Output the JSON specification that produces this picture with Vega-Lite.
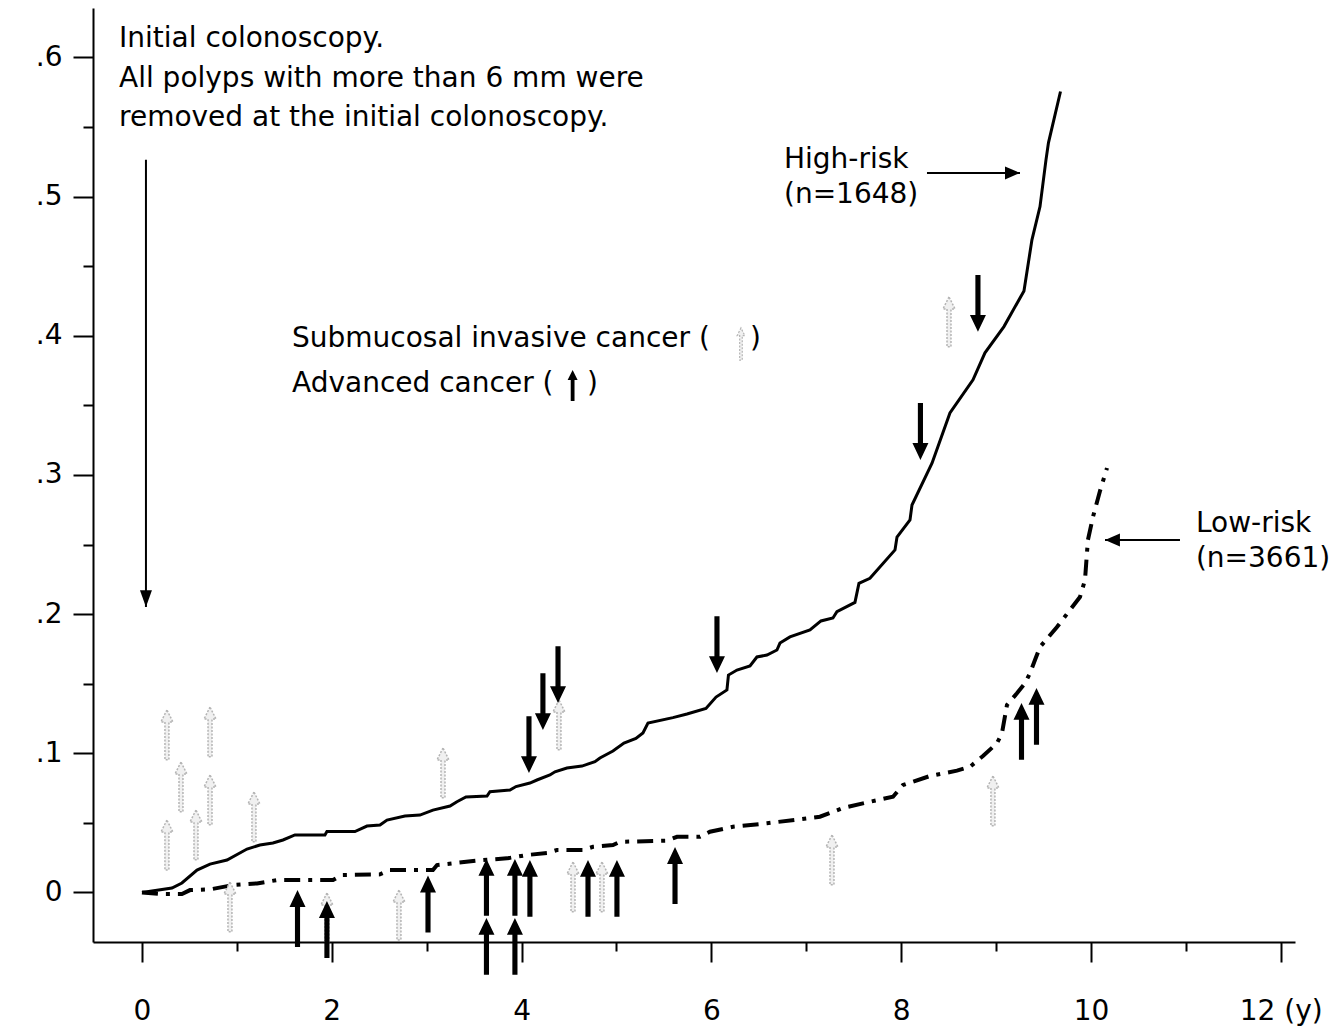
{
  "$schema": "https://vega.github.io/schema/vega-lite/v6.json",
  "width": 1202,
  "height": 934,
  "autosize": {"type": "none"},
  "padding": {"left": 93, "top": 8, "right": 44, "bottom": 86},
  "background": "white",
  "config": {"view": {"stroke": null}},
  "datasets": {
    "curves": [
      {"group": "High-risk", "t": 0, "risk": 0},
      {"group": "High-risk", "t": 0.316, "risk": 0.0032},
      {"group": "High-risk", "t": 0.421, "risk": 0.0068},
      {"group": "High-risk", "t": 0.58, "risk": 0.0161},
      {"group": "High-risk", "t": 0.717, "risk": 0.0204},
      {"group": "High-risk", "t": 0.896, "risk": 0.0233},
      {"group": "High-risk", "t": 1.107, "risk": 0.0312},
      {"group": "High-risk", "t": 1.243, "risk": 0.0341},
      {"group": "High-risk", "t": 1.38, "risk": 0.0355},
      {"group": "High-risk", "t": 1.486, "risk": 0.0377},
      {"group": "High-risk", "t": 1.612, "risk": 0.0413},
      {"group": "High-risk", "t": 1.928, "risk": 0.0413},
      {"group": "High-risk", "t": 1.949, "risk": 0.0438},
      {"group": "High-risk", "t": 2.244, "risk": 0.0438},
      {"group": "High-risk", "t": 2.371, "risk": 0.0477},
      {"group": "High-risk", "t": 2.508, "risk": 0.0484},
      {"group": "High-risk", "t": 2.582, "risk": 0.052},
      {"group": "High-risk", "t": 2.771, "risk": 0.0549},
      {"group": "High-risk", "t": 2.929, "risk": 0.0556},
      {"group": "High-risk", "t": 3.066, "risk": 0.0592},
      {"group": "High-risk", "t": 3.246, "risk": 0.0621},
      {"group": "High-risk", "t": 3.319, "risk": 0.0652},
      {"group": "High-risk", "t": 3.414, "risk": 0.0686},
      {"group": "High-risk", "t": 3.636, "risk": 0.0693},
      {"group": "High-risk", "t": 3.667, "risk": 0.0724},
      {"group": "High-risk", "t": 3.878, "risk": 0.0736},
      {"group": "High-risk", "t": 3.941, "risk": 0.0761},
      {"group": "High-risk", "t": 4.088, "risk": 0.0786},
      {"group": "High-risk", "t": 4.162, "risk": 0.0808},
      {"group": "High-risk", "t": 4.299, "risk": 0.0844},
      {"group": "High-risk", "t": 4.352, "risk": 0.0867},
      {"group": "High-risk", "t": 4.478, "risk": 0.0894},
      {"group": "High-risk", "t": 4.636, "risk": 0.0908},
      {"group": "High-risk", "t": 4.773, "risk": 0.0939},
      {"group": "High-risk", "t": 4.826, "risk": 0.0966},
      {"group": "High-risk", "t": 4.963, "risk": 0.1016},
      {"group": "High-risk", "t": 5.079, "risk": 0.1074},
      {"group": "High-risk", "t": 5.205, "risk": 0.1106},
      {"group": "High-risk", "t": 5.279, "risk": 0.1146},
      {"group": "High-risk", "t": 5.332, "risk": 0.1217},
      {"group": "High-risk", "t": 5.595, "risk": 0.1256},
      {"group": "High-risk", "t": 5.743, "risk": 0.1282},
      {"group": "High-risk", "t": 5.943, "risk": 0.1322},
      {"group": "High-risk", "t": 6.049, "risk": 0.1404},
      {"group": "High-risk", "t": 6.164, "risk": 0.1455},
      {"group": "High-risk", "t": 6.18, "risk": 0.1562},
      {"group": "High-risk", "t": 6.27, "risk": 0.1598},
      {"group": "High-risk", "t": 6.407, "risk": 0.1627},
      {"group": "High-risk", "t": 6.48, "risk": 0.1692},
      {"group": "High-risk", "t": 6.586, "risk": 0.1706},
      {"group": "High-risk", "t": 6.691, "risk": 0.1742},
      {"group": "High-risk", "t": 6.723, "risk": 0.1792},
      {"group": "High-risk", "t": 6.828, "risk": 0.1836},
      {"group": "High-risk", "t": 7.039, "risk": 0.1886},
      {"group": "High-risk", "t": 7.155, "risk": 0.1951},
      {"group": "High-risk", "t": 7.281, "risk": 0.1972},
      {"group": "High-risk", "t": 7.323, "risk": 0.2017},
      {"group": "High-risk", "t": 7.513, "risk": 0.2084},
      {"group": "High-risk", "t": 7.555, "risk": 0.2221},
      {"group": "High-risk", "t": 7.671, "risk": 0.2257},
      {"group": "High-risk", "t": 7.935, "risk": 0.2461},
      {"group": "High-risk", "t": 7.956, "risk": 0.2554},
      {"group": "High-risk", "t": 8.093, "risk": 0.2676},
      {"group": "High-risk", "t": 8.114, "risk": 0.2784},
      {"group": "High-risk", "t": 8.325, "risk": 0.3084},
      {"group": "High-risk", "t": 8.514, "risk": 0.3445},
      {"group": "High-risk", "t": 8.757, "risk": 0.3683},
      {"group": "High-risk", "t": 8.883, "risk": 0.3877},
      {"group": "High-risk", "t": 9.083, "risk": 0.4066},
      {"group": "High-risk", "t": 9.294, "risk": 0.4322},
      {"group": "High-risk", "t": 9.378, "risk": 0.4689},
      {"group": "High-risk", "t": 9.463, "risk": 0.4928},
      {"group": "High-risk", "t": 9.526, "risk": 0.5264},
      {"group": "High-risk", "t": 9.552, "risk": 0.5386},
      {"group": "High-risk", "t": 9.679, "risk": 0.5755},
      {"group": "Low-risk", "t": 0, "risk": 0},
      {"group": "Low-risk", "t": 0.211, "risk": -0.0012},
      {"group": "Low-risk", "t": 0.421, "risk": -0.0012},
      {"group": "Low-risk", "t": 0.506, "risk": 0.0017},
      {"group": "Low-risk", "t": 0.717, "risk": 0.0022},
      {"group": "Low-risk", "t": 0.959, "risk": 0.0053},
      {"group": "Low-risk", "t": 1.212, "risk": 0.0065},
      {"group": "Low-risk", "t": 1.423, "risk": 0.0089},
      {"group": "Low-risk", "t": 2.013, "risk": 0.0089},
      {"group": "Low-risk", "t": 2.107, "risk": 0.0125},
      {"group": "Low-risk", "t": 2.508, "risk": 0.013},
      {"group": "Low-risk", "t": 2.613, "risk": 0.0161},
      {"group": "Low-risk", "t": 3.066, "risk": 0.0161},
      {"group": "Low-risk", "t": 3.109, "risk": 0.0197},
      {"group": "Low-risk", "t": 3.593, "risk": 0.0233},
      {"group": "Low-risk", "t": 3.846, "risk": 0.0245},
      {"group": "Low-risk", "t": 4.057, "risk": 0.0269},
      {"group": "Low-risk", "t": 4.268, "risk": 0.0283},
      {"group": "Low-risk", "t": 4.373, "risk": 0.0305},
      {"group": "Low-risk", "t": 4.647, "risk": 0.0305},
      {"group": "Low-risk", "t": 4.753, "risk": 0.0328},
      {"group": "Low-risk", "t": 4.963, "risk": 0.0341},
      {"group": "Low-risk", "t": 5.037, "risk": 0.0364},
      {"group": "Low-risk", "t": 5.532, "risk": 0.0372},
      {"group": "Low-risk", "t": 5.638, "risk": 0.04},
      {"group": "Low-risk", "t": 5.88, "risk": 0.04},
      {"group": "Low-risk", "t": 5.985, "risk": 0.0436},
      {"group": "Low-risk", "t": 6.228, "risk": 0.0472},
      {"group": "Low-risk", "t": 6.586, "risk": 0.0497},
      {"group": "Low-risk", "t": 7.144, "risk": 0.0544},
      {"group": "Low-risk", "t": 7.387, "risk": 0.0607},
      {"group": "Low-risk", "t": 7.597, "risk": 0.064},
      {"group": "Low-risk", "t": 7.914, "risk": 0.0688},
      {"group": "Low-risk", "t": 8.019, "risk": 0.0772},
      {"group": "Low-risk", "t": 8.304, "risk": 0.0837},
      {"group": "Low-risk", "t": 8.588, "risk": 0.0875},
      {"group": "Low-risk", "t": 8.725, "risk": 0.0903},
      {"group": "Low-risk", "t": 8.862, "risk": 0.098},
      {"group": "Low-risk", "t": 9.009, "risk": 0.1072},
      {"group": "Low-risk", "t": 9.062, "risk": 0.1143},
      {"group": "Low-risk", "t": 9.115, "risk": 0.1347},
      {"group": "Low-risk", "t": 9.22, "risk": 0.1431},
      {"group": "Low-risk", "t": 9.305, "risk": 0.1503},
      {"group": "Low-risk", "t": 9.357, "risk": 0.1575},
      {"group": "Low-risk", "t": 9.41, "risk": 0.167},
      {"group": "Low-risk", "t": 9.463, "risk": 0.1764},
      {"group": "Low-risk", "t": 9.642, "risk": 0.1907},
      {"group": "Low-risk", "t": 9.884, "risk": 0.2123},
      {"group": "Low-risk", "t": 9.937, "risk": 0.2245},
      {"group": "Low-risk", "t": 9.968, "risk": 0.2533},
      {"group": "Low-risk", "t": 10.021, "risk": 0.2698},
      {"group": "Low-risk", "t": 10.095, "risk": 0.2885},
      {"group": "Low-risk", "t": 10.169, "risk": 0.305}
    ],
    "advancedHigh": [
      {"t": 4.078, "risk": 0.0858},
      {"t": 4.225, "risk": 0.1167},
      {"t": 4.384, "risk": 0.1361},
      {"t": 6.059, "risk": 0.1577},
      {"t": 8.203, "risk": 0.3108},
      {"t": 8.809, "risk": 0.4028}
    ],
    "advancedLow": [
      {"t": 1.639, "risk": 0.0017},
      {"t": 1.949, "risk": -0.0062},
      {"t": 3.014, "risk": 0.0121},
      {"t": 3.63, "risk": 0.024},
      {"t": 3.63, "risk": -0.0184},
      {"t": 3.93, "risk": 0.024},
      {"t": 3.93, "risk": -0.0184},
      {"t": 4.088, "risk": 0.0233},
      {"t": 4.7, "risk": 0.0233},
      {"t": 5.005, "risk": 0.0233},
      {"t": 5.617, "risk": 0.0326},
      {"t": 9.268, "risk": 0.1361},
      {"t": 9.426, "risk": 0.1469}
    ],
    "submucosal": [
      {"t": 0.263, "risk": 0.1311},
      {"t": 0.263, "risk": 0.052},
      {"t": 0.411, "risk": 0.0937},
      {"t": 0.569, "risk": 0.0592},
      {"t": 0.717, "risk": 0.1332},
      {"t": 0.717, "risk": 0.0844},
      {"t": 1.18, "risk": 0.0722},
      {"t": 0.927, "risk": 0.0075},
      {"t": 1.949, "risk": -0.0004},
      {"t": 2.708, "risk": 0.0017},
      {"t": 3.172, "risk": 0.1038},
      {"t": 4.394, "risk": 0.1383},
      {"t": 4.542, "risk": 0.0219},
      {"t": 4.847, "risk": 0.0219},
      {"t": 7.271, "risk": 0.0413},
      {"t": 8.967, "risk": 0.0837},
      {"t": 8.504, "risk": 0.4279}
    ],
    "labels": [
      {"t": -0.242, "risk": 0.6076, "text": "Initial colonoscopy."},
      {"t": -0.242, "risk": 0.5788, "text": "All polyps with more than 6 mm were"},
      {"t": -0.242, "risk": 0.5508, "text": "removed at the initial colonoscopy."},
      {"t": 6.765, "risk": 0.5206, "text": "High-risk"},
      {"t": 6.765, "risk": 0.4955, "text": "(n=1648)"},
      {"t": 11.106, "risk": 0.259, "text": "Low-risk"},
      {"t": 11.106, "risk": 0.2339, "text": "(n=3661)"},
      {"t": 1.581, "risk": 0.392, "text": "Submucosal invasive cancer ("},
      {"t": 6.407, "risk": 0.392, "text": ")"},
      {"t": 1.581, "risk": 0.3596, "text": "Advanced cancer ("},
      {"t": 4.689, "risk": 0.3596, "text": ")"}
    ]
  },
  "layer": [
    {
      "data": {"name": "curves"},
      "transform": [{"filter": "datum.group === 'High-risk'"}],
      "mark": {"type": "line", "color": "black", "strokeWidth": 3},
      "encoding": {
        "x": {
          "field": "t", "type": "quantitative",
          "scale": {"domain": [-0.516, 12.15], "nice": false, "zero": false},
          "axis": {
            "title": null,
            "values": [0, 0.5, 1, 1.5, 2, 2.5, 3, 3.5, 4, 4.5, 5, 5.5, 6, 6.5, 7, 7.5, 8, 8.5, 9, 9.5, 10, 10.5, 11, 11.5, 12],
            "format": "d",
            "labelExpr": "datum.value % 2 === 0 ? (datum.value === 12 ? '12 (y)' : datum.label) : ''",
            "tickSize": {"condition": {"test": "datum.value % 2 === 0", "value": 20}, "value": 9},
            "tickColor": "black", "tickWidth": 2,
            "domainColor": "black", "domainWidth": 2,
            "labelFont": "DejaVu Sans", "labelFontSize": 28, "labelColor": "black",
            "labelPadding": 35, "labelOverlap": false, "labelFlush": false, "labelBound": false,
            "grid": false
          }
        },
        "y": {
          "field": "risk", "type": "quantitative",
          "scale": {"domain": [-0.0356, 0.6355], "nice": false, "zero": false},
          "axis": {
            "title": null,
            "values": [0, 0.05, 0.1, 0.15, 0.2, 0.25, 0.3, 0.35, 0.4, 0.45, 0.5, 0.55, 0.6],
            "labelExpr": "round(datum.value * 100) % 10 === 0 ? (datum.value === 0 ? '0' : replace(format(datum.value, '.1f'), '0.', '.')) : ''",
            "tickSize": {"condition": {"test": "round(datum.value * 100) % 10 === 0", "value": 20}, "value": 10},
            "tickColor": "black", "tickWidth": 2,
            "domainColor": "black", "domainWidth": 2,
            "labelFont": "DejaVu Sans", "labelFontSize": 28, "labelColor": "black",
            "labelPadding": 11, "labelOverlap": false, "labelFlush": false, "labelBound": false,
            "grid": false
          }
        }
      }
    },
    {
      "data": {"name": "curves"},
      "transform": [{"filter": "datum.group === 'Low-risk'"}],
      "mark": {"type": "line", "color": "black", "strokeWidth": 4, "strokeDash": [16, 8, 4, 8], "strokeCap": "butt"},
      "encoding": {
        "x": {"field": "t", "type": "quantitative"},
        "y": {"field": "risk", "type": "quantitative"}
      }
    },
    {
      "data": {"name": "submucosal"},
      "mark": {"type": "point", "shape": "M0,0L-1,2L-0.33,2L-0.33,8.3L0.33,8.3L0.33,2L1,2Z", "size": 144, "filled": true, "fill": "#f0f0f0", "stroke": "#b4b4b4", "strokeWidth": 1.5, "strokeDash": [2, 1.5], "opacity": 1},
      "encoding": {
        "x": {"field": "t", "type": "quantitative"},
        "y": {"field": "risk", "type": "quantitative"}
      }
    },
    {
      "data": {"name": "advancedHigh"},
      "mark": {"type": "point", "shape": "M0,0L-1,-2.1L-0.32,-2.1L-0.32,-7.1L0.32,-7.1L0.32,-2.1L1,-2.1Z", "size": 256, "filled": true, "color": "black", "strokeWidth": 0, "opacity": 1},
      "encoding": {
        "x": {"field": "t", "type": "quantitative"},
        "y": {"field": "risk", "type": "quantitative"}
      }
    },
    {
      "data": {"name": "advancedLow"},
      "mark": {"type": "point", "shape": "M0,0L-1,2.1L-0.32,2.1L-0.32,7.1L0.32,7.1L0.32,2.1L1,2.1Z", "size": 256, "filled": true, "color": "black", "strokeWidth": 0, "opacity": 1},
      "encoding": {
        "x": {"field": "t", "type": "quantitative"},
        "y": {"field": "risk", "type": "quantitative"}
      }
    },
    {
      "data": {"values": [{"t": 4.538, "risk": 0.3754}]},
      "mark": {"type": "point", "shape": "M0,0L-1,2L-0.38,2L-0.38,6.2L0.38,6.2L0.38,2L1,2Z", "size": 100, "filled": true, "color": "black", "strokeWidth": 0, "opacity": 1},
      "encoding": {
        "x": {"field": "t", "type": "quantitative"},
        "y": {"field": "risk", "type": "quantitative"}
      }
    },
    {
      "data": {"values": [{"t": 6.312, "risk": 0.4056}]},
      "mark": {"type": "point", "shape": "M0,0L-1,2L-0.33,2L-0.33,8.3L0.33,8.3L0.33,2L1,2Z", "size": 60, "filled": true, "fill": "#f0f0f0", "stroke": "#b4b4b4", "strokeWidth": 1.2, "strokeDash": [2, 1.5], "opacity": 1},
      "encoding": {
        "x": {"field": "t", "type": "quantitative"},
        "y": {"field": "risk", "type": "quantitative"}
      }
    },
    {
      "data": {"values": [{"t": 0.042, "top": 0.5264, "tip": 0.2051}]},
      "mark": {"type": "rule", "color": "black", "strokeWidth": 2},
      "encoding": {
        "x": {"field": "t", "type": "quantitative"},
        "y": {"field": "top", "type": "quantitative"},
        "y2": {"field": "tip"}
      }
    },
    {
      "data": {"values": [{"t": 0.042, "tip": 0.2051}]},
      "mark": {"type": "point", "shape": "M0,0L-1,-2.8L1,-2.8Z", "size": 144, "filled": true, "color": "black", "strokeWidth": 0, "opacity": 1},
      "encoding": {
        "x": {"field": "t", "type": "quantitative"},
        "y": {"field": "tip", "type": "quantitative"}
      }
    },
    {
      "data": {"values": [
        {"tail": 8.272, "tip": 9.252, "risk": 0.517},
        {"tail": 10.938, "tip": 10.148, "risk": 0.2533}
      ]},
      "mark": {"type": "rule", "color": "black", "strokeWidth": 2},
      "encoding": {
        "x": {"field": "tail", "type": "quantitative"},
        "x2": {"field": "tip"},
        "y": {"field": "risk", "type": "quantitative"}
      }
    },
    {
      "data": {"values": [{"tip": 9.252, "risk": 0.517}]},
      "mark": {"type": "point", "shape": "M0,0L-2.3,-1L-2.3,1Z", "size": 169, "filled": true, "color": "black", "strokeWidth": 0, "opacity": 1},
      "encoding": {
        "x": {"field": "tip", "type": "quantitative"},
        "y": {"field": "risk", "type": "quantitative"}
      }
    },
    {
      "data": {"values": [{"tip": 10.148, "risk": 0.2533}]},
      "mark": {"type": "point", "shape": "M0,0L2.3,-1L2.3,1Z", "size": 169, "filled": true, "color": "black", "strokeWidth": 0, "opacity": 1},
      "encoding": {
        "x": {"field": "tip", "type": "quantitative"},
        "y": {"field": "risk", "type": "quantitative"}
      }
    },
    {
      "data": {"name": "labels"},
      "mark": {"type": "text", "align": "left", "baseline": "alphabetic", "font": "DejaVu Sans", "fontSize": 28, "color": "black"},
      "encoding": {
        "x": {"field": "t", "type": "quantitative"},
        "y": {"field": "risk", "type": "quantitative"},
        "text": {"field": "text"}
      }
    }
  ]
}
